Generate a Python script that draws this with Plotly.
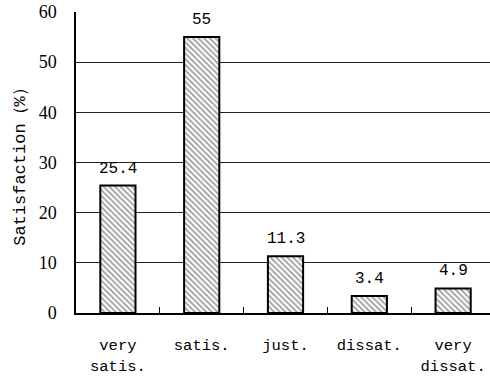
import plotly.graph_objects as go

categories = ["very<br>satis.", "satis.", "just.", "dissat.", "very<br>dissat."]
values = [25.4, 55, 11.3, 3.4, 4.9]
value_labels = ["25.4", "55", "11.3", "3.4", "4.9"]
y_ticks = [0, 10, 20, 30, 40, 50, 60]

mono = "'Liberation Mono', 'Courier New', 'DejaVu Sans Mono', monospace"
serif = "'Liberation Serif', 'Times New Roman', 'DejaVu Serif', serif"

fig = go.Figure()
fig.add_trace(go.Bar(
    x=categories,
    y=values,
    width=0.42,
    marker=dict(
        color="white",
        line=dict(color="black", width=2),
        pattern=dict(shape="\\", size=4, solidity=0.45, fgcolor="#3a3a3a", bgcolor="white"),
    ),
    showlegend=False,
))

for c, v, t in zip(categories, values, value_labels):
    fig.add_annotation(x=c, y=v, text=t, showarrow=False, yanchor="bottom",
                       yshift=6, font=dict(family=mono, size=16, color="black"))

fig.update_layout(
    width=490, height=379,
    margin=dict(l=76, r=0, t=12, b=66),
    paper_bgcolor="white", plot_bgcolor="white",
    bargap=0.58,
)
fig.update_xaxes(
    type="category",
    range=[-0.5, 4.44],
    tickson="boundaries",
    ticks="inside", ticklen=6, tickcolor="black", tickwidth=1,
    showline=True, linecolor="black", linewidth=1.5,
    showgrid=False,
    tickfont=dict(family=mono, size=15.5, color="black"),
    ticklabelstandoff=17,
)
fig.update_yaxes(
    range=[0, 60],
    tickvals=y_ticks,
    showgrid=True, gridcolor="#222222", gridwidth=1,
    showline=True, linecolor="black", linewidth=1.5,
    zeroline=False,
    ticks="",
    tickfont=dict(family=serif, size=18, color="black"),
    ticklabelstandoff=14,
    title=dict(text="Satisfaction（%）", font=dict(family=mono, size=17, color="black"), standoff=9),
)

fig.write_html("out.html", config={"displayModeBar": False},
               post_script="document.body.style.margin='0';document.body.style.padding='0';")
